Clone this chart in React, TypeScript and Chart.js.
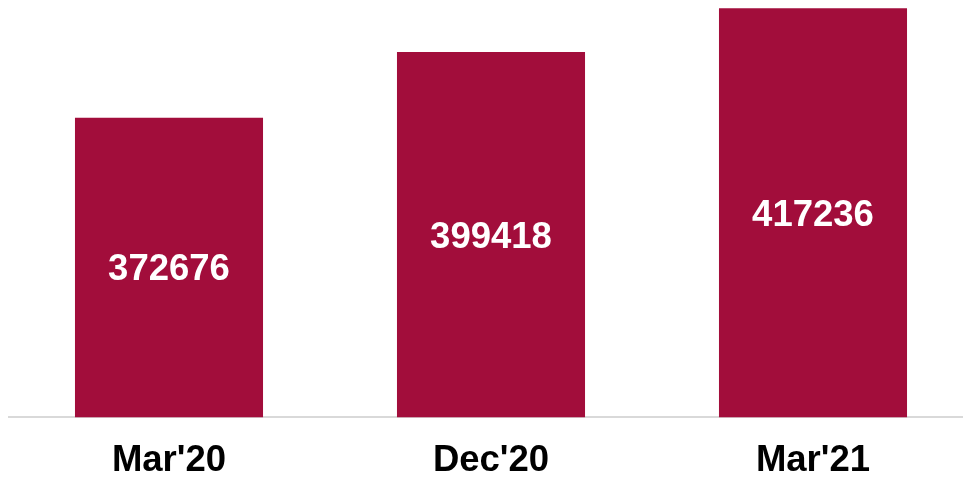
import React, { useEffect, useRef, useState } from "react";
import { Chart, registerables } from "chart.js";

Chart.register(...registerables);

const categories = ["Mar'20", "Dec'20", "Mar'21"];
const values = [372676, 399418, 417236];
const yMin = 250800;
const yMax = 417300;

const BAR_COLOR = "#A20D3B";
const FONT = "'Liberation Sans', Arial, sans-serif";
const FONT_SIZE = 36.5;

type LabelPos = { x: number; y: number; text: string };

export default function App() {
  const ref = useRef<HTMLCanvasElement | null>(null);
  const [labels, setLabels] = useState<LabelPos[]>([]);

  useEffect(() => {
    document.documentElement.style.overflow = "hidden";
    document.body.style.overflow = "hidden";
    if (!ref.current) return;
    const chart = new Chart(ref.current, {
      type: "bar",
      data: {
        labels: categories,
        datasets: [
          {
            data: values,
            backgroundColor: BAR_COLOR,
            borderWidth: 0,
            categoryPercentage: 1,
            barPercentage: 0.584,
          },
        ],
      },
      options: {
        animation: false,
        responsive: false,
        layout: { padding: 0 },
        plugins: {
          legend: { display: false },
          tooltip: { enabled: false },
          title: { display: false },
        },
        scales: {
          x: {
            grid: { display: false, drawTicks: false },
            border: { display: true, color: "#d9d9d9", width: 2 },
            ticks: {
              color: "#000000",
              padding: 22,
              font: { family: FONT, size: FONT_SIZE, weight: "bold", lineHeight: 1.2 },
            },
          },
          y: {
            display: false,
            min: yMin,
            max: yMax,
          },
        },
      },
    });
    const xs = chart.scales.x;
    const ys = chart.scales.y;
    const pos: LabelPos[] = values.map((v, i) => {
      const top = ys.getPixelForValue(v);
      const base = ys.getPixelForValue(yMin);
      return { x: xs.getPixelForValue(i), y: (top + base) / 2, text: String(v) };
    });
    setLabels(pos);
    return () => chart.destroy();
  }, []);

  return (
    <div
      style={{
        position: "fixed",
        left: 8,
        top: 8,
        width: 955,
        height: 473,
        overflow: "hidden",
        background: "#ffffff",
      }}
    >
      <canvas
        ref={ref}
        width={966}
        height={497}
        style={{ width: 966, height: 497, display: "block" }}
      />
      {labels.map((l, i) => (
        <div
          key={i}
          style={{
            position: "absolute",
            left: l.x,
            top: l.y + 1,
            transform: "translate(-50%, -50%)",
            color: "#ffffff",
            fontFamily: FONT,
            fontWeight: "bold",
            fontSize: FONT_SIZE,
            lineHeight: "42px",
            whiteSpace: "nowrap",
          }}
        >
          {l.text}
        </div>
      ))}
    </div>
  );
}
